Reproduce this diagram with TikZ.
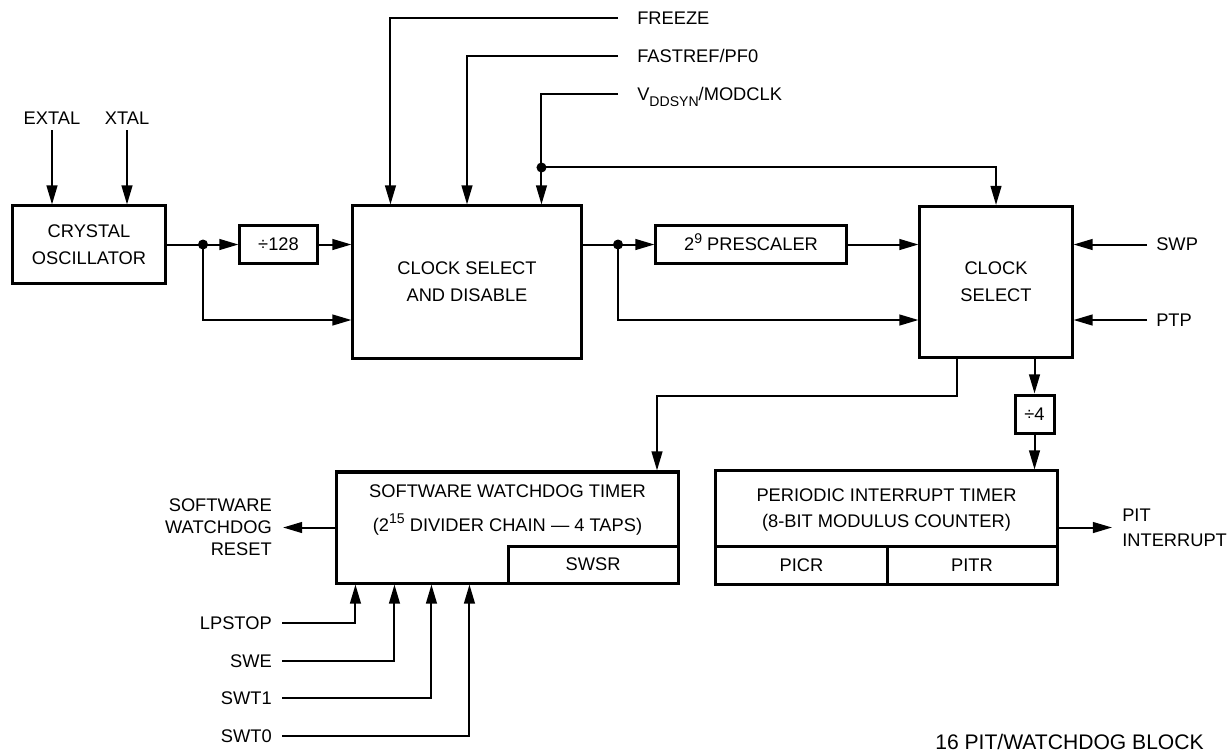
\documentclass[tikz,border=0pt]{standalone}
\usepackage{fontspec}
\setmainfont{Liberation Sans}
\usetikzlibrary{arrows.meta,positioning,calc}
\newcommand\supx[1]{\raisebox{0.42em}[0pt][0pt]{\fontsize{10}{10}\selectfont #1}}
\newcommand\subx[1]{\raisebox{-0.3em}[0pt][0pt]{\fontsize{10}{10}\selectfont #1}}

\begin{document}
\begin{tikzpicture}[
  x=0.025cm, y=-0.025cm,
  font=\fontsize{13}{19}\selectfont,
  blk/.style={draw, line width=0.075cm, align=center, inner sep=0pt},
  sig/.style={inner sep=0pt, align=center},
  wire/.style={line width=0.05cm},
  arr/.style={wire, -{Triangle[length=0.48cm, width=0.27cm]}},
  dot/.style={circle, fill, inner sep=0pt, minimum size=0.25cm},
]
\useasboundingbox (0,0) rectangle (1227,752);

% blocks
\node[blk, minimum width=3.8cm, minimum height=1.925cm] (osc) at (89,244.5) {CRYSTAL\\OSCILLATOR};
\node[blk, minimum width=1.925cm, minimum height=0.95cm] (div128) at (278.5,244.5) {÷128};
\node[blk, minimum width=5.7cm, minimum height=3.8cm] (csd) at (467,282) {CLOCK SELECT\\AND DISABLE};
\node[blk, minimum width=4.75cm, minimum height=0.95cm] (presc) at (751,244.5) {2\supx{9} PRESCALER};
\node[blk, minimum width=3.8cm, minimum height=3.775cm] (clksel) at (996,282) {CLOCK\\SELECT};
\node[blk, minimum width=0.975cm, minimum height=0.95cm] (div4) at (1034.5,414) {÷4};

\node[blk, minimum width=8.525cm, minimum height=2.775cm] (swt) at (507.5,527.5) {};
\node[blk, minimum width=4.25cm, minimum height=0.925cm, anchor=south east] (swsr) at (swt.south east) {SWSR};
\node[sig] (swttxt) at (507.5,510) {SOFTWARE WATCHDOG TIMER\\[5pt](2\supx{15} DIVIDER CHAIN — 4 TAPS)};

\node[blk, minimum width=8.525cm, minimum height=2.825cm] (pit) at (886.5,527.5) {};
\node[blk, minimum width=4.275cm, minimum height=0.95cm, anchor=south west] (picr) at (pit.south west) {PICR};
\node[blk, minimum width=4.25cm, minimum height=0.95cm, anchor=south east] (pitr) at (pit.south east) {PITR};
\node[sig, font=\fontsize{13}{18.5}\selectfont] (pittxt) at (886.5,510) {PERIODIC INTERRUPT TIMER\\(8-BIT MODULUS COUNTER)};

% oscillator inputs
\coordinate (exin) at (52,130);
\coordinate (xtin) at (127,130);
\node[sig, above=0.125cm of exin] (extal) {EXTAL};
\node[sig, above=0.125cm of xtin] (xtal) {XTAL};
\draw[arr] (exin) -- (exin |- osc.north);
\draw[arr] (xtin) -- (xtin |- osc.north);

% oscillator to clock select and disable
\coordinate (d1) at (203,244.5);
\coordinate (low) at (0,320);
\draw[wire] (osc.east) -- (d1);
\draw[arr] (d1) -- (div128);
\draw[arr] (div128) -- (csd.west |- div128);
\draw[arr] (d1) |- (csd.west |- low);
\node[dot] at (d1) {};

% control inputs
\coordinate (fz) at (618,18);
\coordinate (fr) at (618,56);
\coordinate (vd) at (618,94);
\node[sig, right=0.475cm of fz] (freeze) {FREEZE};
\node[sig, right=0.475cm of fr] (fastref) {FASTREF/PF0};
\node[sig, right=0.475cm of vd] (vddsyn) {V\subx{DDSYN}/MODCLK};
\draw[arr] (fz) -| ($(csd.north west)+(39,0)$);
\draw[arr] (fr) -| (csd.north);
\draw[arr] (vd) -| ($(csd.north west)+(190,0)$);
\coordinate (d3) at ($(csd.north west)+(190,-37)$);
\draw[arr] (d3) -| (clksel.north);
\node[dot] at (d3) {};

% prescaler path
\coordinate (d2) at (618,244.5);
\draw[wire] (csd.east |- presc) -- (d2);
\draw[arr] (d2) -- (presc);
\draw[arr] (presc) -- (clksel.west |- presc);
\draw[arr] (d2) |- (clksel.west |- low);
\node[dot] at (d2) {};

% clock select inputs
\coordinate (swpin) at (1147,244.5);
\coordinate (ptpin) at (1147,320);
\node[sig, right=0.225cm of swpin] (swp) {SWP};
\node[sig, right=0.225cm of ptpin] (ptp) {PTP};
\draw[arr] (swpin) -- (clksel.east |- swpin);
\draw[arr] (ptpin) -- (clksel.east |- ptpin);

% to timers
\coordinate (tap) at ($(clksel.south west)+(39,0)$);
\coordinate (bend) at (657,396);
\draw[arr] (tap) |- (bend) -- (bend |- swt.north);
\draw[arr] (clksel.south -| div4) -- (div4.north);
\draw[arr] (div4.south) -- (div4.south |- pit.north);

% outputs
\coordinate (rstout) at (283,527.5);
\draw[arr] (swt.west) -- (rstout);
\node[sig, left=0.275cm of rstout, align=right, font=\fontsize{13}{15.6}\selectfont] (rst) {SOFTWARE\\WATCHDOG\\RESET};
\coordinate (pitout) at (1112,527.5);
\draw[arr] (pit.east) -- (pitout);
\node[sig, right=0.25cm of pitout, align=left, font=\fontsize{13}{17.7}\selectfont] (pitint) {PIT\\INTERRUPT};

% watchdog inputs
\foreach \sn/\txt/\dx/\yy in {lpstop/LPSTOP/20/623, swe/SWE/59/661, swta/SWT1/96/698, swtb/SWT0/134/736} {
  \coordinate (\sn) at (282,\yy);
  \node[sig, left=0.25cm of \sn] (\sn-lbl) {\txt};
  \draw[arr] (\sn) -| ($(swt.south west)+(\dx,0)$);
}

\node[sig, anchor=west, font=\fontsize{15}{18}\selectfont] (fig) at (935,742) {16 PIT/WATCHDOG BLOCK};

\end{tikzpicture}
\end{document}
